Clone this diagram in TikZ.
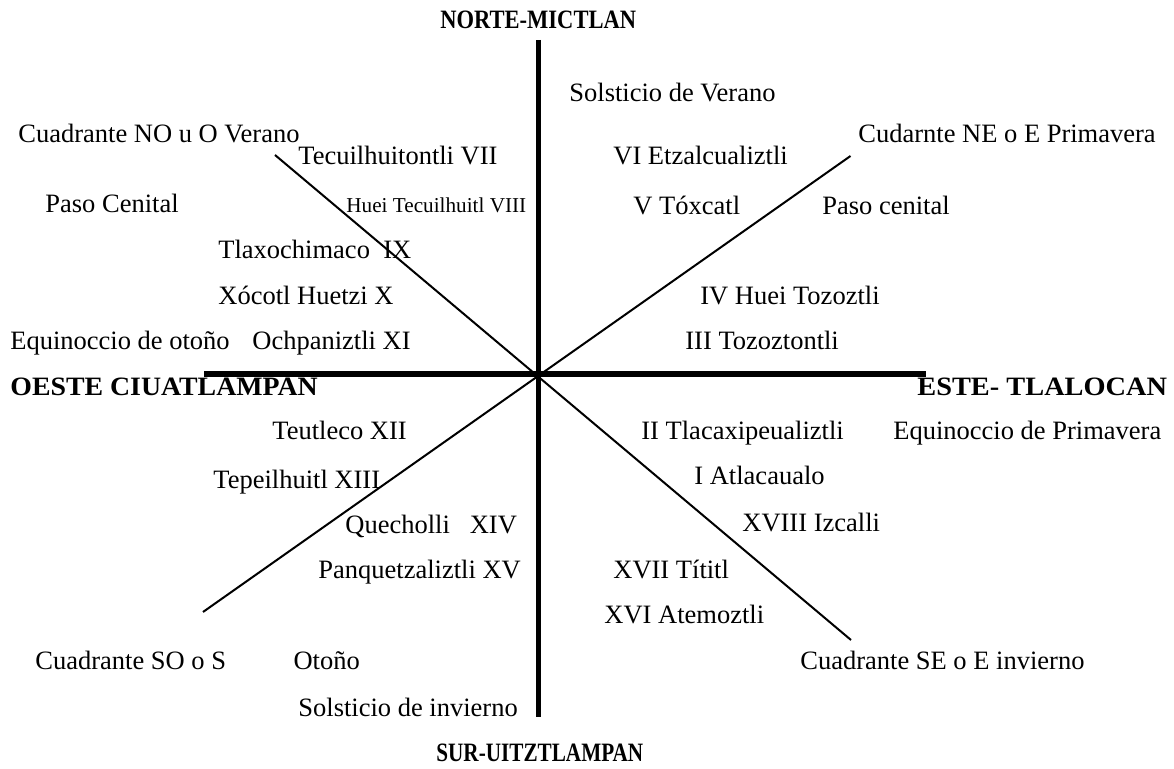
\documentclass[tikz,border=0pt]{standalone}
\usepackage{fontspec}
\setmainfont{Liberation Serif}
\begin{document}
\begin{tikzpicture}[x=0.5pt,y=-0.5pt,
  lbl/.style={anchor=west,inner sep=0pt,text height=1.5ex,text depth=0pt,font=\fontsize{13.25}{15}\selectfont},
  small/.style={lbl,font=\fontsize{10.6}{12}\selectfont},
  cardinal/.style={lbl,font=\fontsize{13.25}{15}\selectfont\bfseries},
  axis/.style={line width=2.6pt},
  diag/.style={line width=1pt}]
\useasboundingbox (0,0) rectangle (1174,769);

% axes and quadrant diagonals
\coordinate (c) at (538.5,374);
\coordinate (n) at (538.5,40);
\coordinate (s) at (538.5,717);
\coordinate (w) at (204,374);
\coordinate (e) at (926,374);
\coordinate (nw) at (275,155);
\coordinate (se) at (851,640);
\coordinate (ne) at (850.5,156);
\coordinate (sw) at (203,612);
\draw[axis] (n) -- (s);
\draw[axis] (w) -- (e);
\draw[diag] (nw) -- (se);
\draw[diag] (ne) -- (sw);

% cardinal points
\node[cardinal] (tN) at (440,22) {\scalebox{0.85}[1]{NORTE-MICTLAN}};
\node[cardinal] (tW) at (10,389) {\scalebox{1.05}[1]{OESTE CIUATLAMPAN}};
\node[cardinal] (tE) at (917,389) {\scalebox{1.07}[1]{ESTE- TLALOCAN}};
\node[cardinal] (tS) at (436,755) {\scalebox{0.80}[1]{SUR-UITZTLAMPAN}};

% solstices, equinoxes, quadrants
\node[lbl] (sv) at (569,95) {Solsticio de Verano};
\node[lbl] (qno) at (18,136) {Cuadrante NO u O Verano};
\node[lbl] (qne) at (858,136) {Cudarnte NE o E Primavera};
\node[lbl] (pc1) at (45,206) {Paso Cenital};
\node[lbl] (pc2) at (822,208) {Paso cenital};
\node[lbl] (eo) at (10,343) {Equinoccio de otoño};
\node[lbl] (ep) at (893,433) {Equinoccio de Primavera};
\node[lbl] (qso) at (35,663) {Cuadrante SO o S\hspace{2.55em}Otoño};
\node[lbl] (qse) at (800,663) {Cuadrante SE o E invierno};
\node[lbl] (si) at (298,710) {Solsticio de invierno};

% months
\node[lbl] (m7) at (298,158) {Tecuilhuitontli VII};
\node[small] (m8) at (346,206) {Huei Tecuilhuitl VIII};
\node[lbl] (m6) at (613,158) {VI Etzalcualiztli};
\node[lbl] (m5) at (633,208) {V Tóxcatl};
\node[lbl] (m9) at (218,252) {Tlaxochimaco\hspace{0.5em}IX};
\node[lbl] (m10) at (218,298) {Xócotl Huetzi X};
\node[lbl] (m4) at (700,298) {IV Huei Tozoztli};
\node[lbl] (m11) at (252,343) {Ochpaniztli XI};
\node[lbl] (m3) at (685,343) {III Tozoztontli};
\node[lbl] (m12) at (272,433) {Teutleco XII};
\node[lbl] (m2) at (641,433) {II Tlacaxipeualiztli};
\node[lbl] (m13) at (213,482) {Tepeilhuitl XIII};
\node[lbl] (m1) at (694,478) {I Atlacaualo};
\node[lbl] (m14) at (345,527) {Quecholli\hspace{0.75em}XIV};
\node[lbl] (m18) at (742,525) {XVIII Izcalli};
\node[lbl] (m15) at (318,572) {Panquetzaliztli XV};
\node[lbl] (m17) at (613,572) {XVII Títitl};
\node[lbl] (m16) at (604,617) {XVI Atemoztli};
\end{tikzpicture}
\end{document}
